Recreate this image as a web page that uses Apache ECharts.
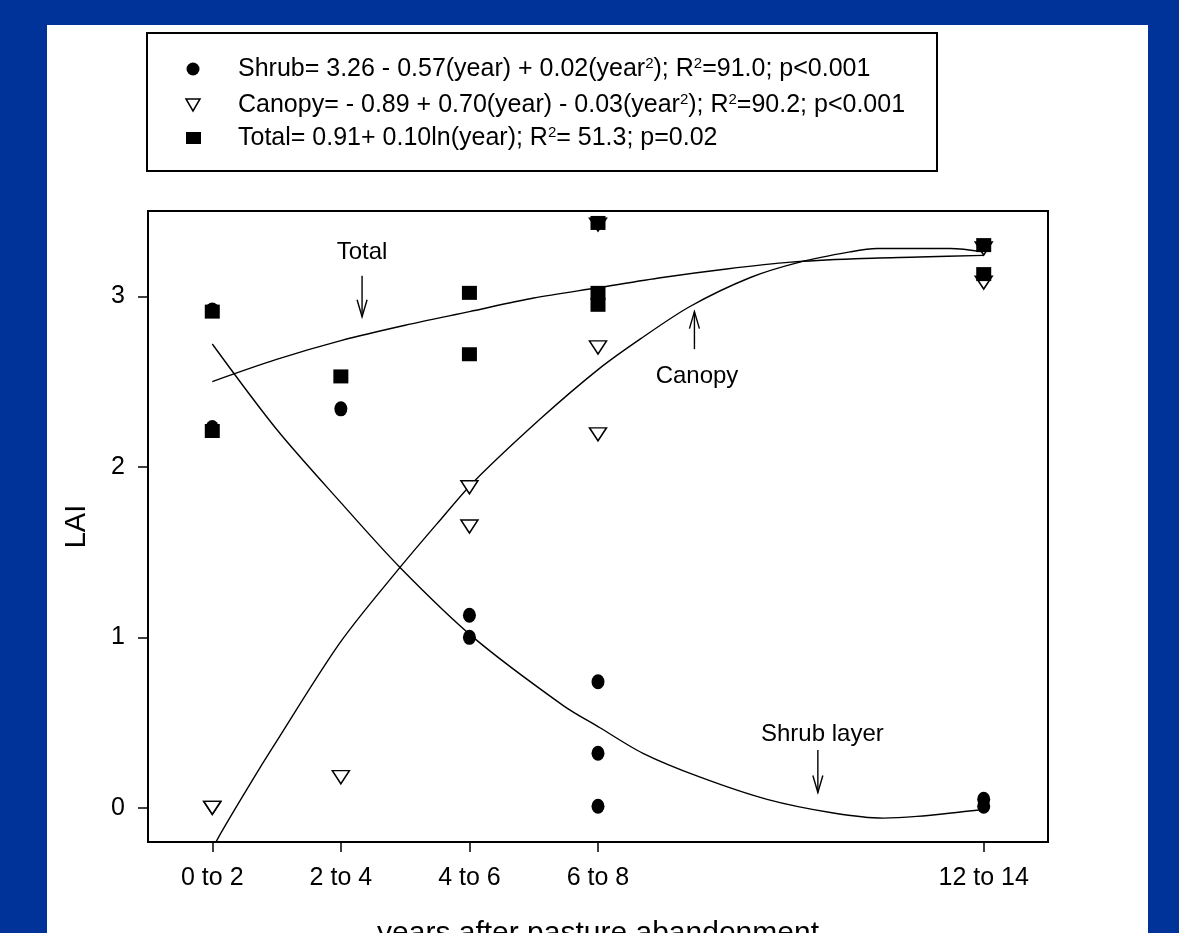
<!DOCTYPE html>
<html>
<head>
<meta charset="utf-8">
<script src="https://cdn.jsdelivr.net/npm/echarts@6/dist/echarts.min.js"></script>
<style>
  html, body { margin: 0; padding: 0; background: #003399; overflow: hidden; }
  #panel { position: absolute; left: 47px; top: 25px; width: 1101px; height: 920px; background: #fff; }
  #chart { position: absolute; left: 0; top: 0; width: 1179px; height: 933px; }
</style>
</head>
<body>
<div id="panel"></div>
<div id="chart"></div>
<script>
// x = mid-year of each age class
const yearTicks = [1, 3, 5, 7, 13];
const yearLabels = ["0 to 2", "2 to 4", "4 to 6", "6 to 8", "12 to 14"];
const laiTicks = [0, 1, 2, 3];

// observed LAI
const shrubX = [1, 1, 3, 5, 5, 7, 7, 7, 13, 13];
const shrubY = [2.92, 2.23, 2.34, 1.13, 1.0, 0.74, 0.32, 0.01, 0.05, 0.01];
const canopyX = [1, 1, 3, 5, 5, 7, 7, 7, 13, 13];
const canopyY = [0.0, 0.0, 0.18, 1.88, 1.65, 3.42, 2.7, 2.19, 3.28, 3.08];
const totalX = [1, 1, 3, 5, 5, 7, 7, 7, 13, 13];
const totalY = [2.91, 2.21, 2.53, 3.02, 2.66, 3.43, 3.02, 2.95, 3.3, 3.13];

// fitted curves
const shrubFitX = [1, 2, 3, 3.92, 5.06, 6.46, 7.03, 7.7, 8.59, 9.63, 10.66, 11.44, 11.96, 12.74, 13];
const shrubFitY = [2.72, 2.22, 1.79, 1.41, 1.0, 0.6, 0.47, 0.32, 0.18, 0.05, -0.03, -0.06, -0.05, -0.02, -0.01];
const canopyFitX = [1, 1.16, 1.62, 1.95, 2.99, 3.92, 4.55, 5.06, 6.1, 7.0, 7.66, 8.43, 9.37, 10.14, 10.92, 11.34, 12.48, 13];
const canopyFitY = [-0.24, -0.13, 0.16, 0.36, 0.97, 1.41, 1.69, 1.91, 2.28, 2.57, 2.75, 2.94, 3.11, 3.2, 3.26, 3.28, 3.28, 3.26];
const totalFitX = [1, 2, 3, 4, 5, 6, 7, 8, 9, 10, 11, 12, 13];
const totalFitY = [2.5, 2.63, 2.74, 2.83, 2.91, 2.99, 3.05, 3.11, 3.16, 3.2, 3.22, 3.23, 3.24];

// arrow annotations
const annLabels = ["Total", "Canopy", "Shrub layer"];
const annX = [3.33, 8.5, 10.42];
const annFrom = [3.12, 2.69, 0.34];
const annTo = [2.88, 2.91, 0.09];
const annTextX = [3.33, 8.54, 10.49];
const annTextY = [3.26, 2.53, 0.43];

const legendRows = [
  "Shrub= 3.26 - 0.57(year) + 0.02(year{s|2}); R{s|2}=91.0; p<0.001",
  "Canopy= - 0.89 + 0.70(year) - 0.03(year{s|2}); R{s|2}=90.2; p<0.001",
  "Total= 0.91+ 0.10ln(year); R{s|2}= 51.3; p=0.02",
];

const FONT = '"Liberation Sans", Arial, sans-serif';
const zip = (xs, ys) => xs.map((x, i) => [x, ys[i]]);

const chart = echarts.init(document.getElementById("chart"));

const legendY = [69, 105, 138];
const legendMarkers = [
  { type: "circle", shape: { cx: 193, cy: legendY[0], r: 6.5 }, style: { fill: "#000" } },
  {
    type: "polygon",
    shape: { points: [[186, legendY[1] - 6], [200, legendY[1] - 6], [193, legendY[1] + 6]] },
    style: { fill: "#fff", stroke: "#000", lineWidth: 1.5 },
  },
  { type: "rect", shape: { x: 186, y: legendY[2] - 6, width: 15, height: 12 }, style: { fill: "#000" } },
];

const fitLine = (name, xs, ys) => ({
  name,
  type: "line",
  data: zip(xs, ys),
  showSymbol: false,
  smooth: 0.3,
  lineStyle: { color: "#000", width: 1.4 },
  z: 2,
});

const option = {
  animation: false,
  graphic: [
    {
      type: "rect",
      shape: { x: 147, y: 33, width: 790, height: 138 },
      style: { fill: "#fff", stroke: "#000", lineWidth: 2 },
    },
    ...legendMarkers,
    ...legendRows.map((t, i) => ({
      type: "text",
      x: 238,
      y: legendY[i],
      style: {
        text: t,
        font: "25px " + FONT,
        fill: "#000",
        verticalAlign: "middle",
        rich: { s: { fontSize: 15, fontFamily: FONT, verticalAlign: "top", fill: "#000" } },
      },
    })),
  ],
  grid: {
    left: 148,
    right: 131,
    top: 211,
    bottom: 91,
    show: true,
    borderColor: "#000",
    borderWidth: 2,
    containLabel: false,
    outerBoundsMode: "none",
  },
  xAxis: {
    type: "value",
    min: 0,
    max: 14,
    name: "years after pasture abandonment",
    nameLocation: "middle",
    nameGap: 77,
    nameTextStyle: { fontSize: 30, fontFamily: FONT, color: "#000" },
    axisLine: { show: true, onZero: false, lineStyle: { color: "#000", width: 2 } },
    axisTick: { show: true, customValues: yearTicks, length: 10, lineStyle: { color: "#000", width: 1.5 } },
    axisLabel: {
      customValues: yearTicks,
      formatter: (v) => yearLabels[yearTicks.indexOf(v)] || "",
      fontSize: 25,
      fontFamily: FONT,
      color: "#000",
      margin: 24,
    },
    splitLine: { show: false },
  },
  yAxis: {
    type: "value",
    min: -0.2,
    max: 3.5,
    name: "LAI",
    nameLocation: "middle",
    nameGap: 57,
    nameRotate: 90,
    nameTextStyle: { fontSize: 29, fontFamily: FONT, color: "#000" },
    axisLine: { show: true, onZero: false, lineStyle: { color: "#000", width: 2 } },
    axisTick: { show: true, customValues: laiTicks, length: 10, lineStyle: { color: "#000", width: 1.5 } },
    axisLabel: {
      customValues: laiTicks,
      fontSize: 25,
      fontFamily: FONT,
      color: "#000",
      margin: 23,
    },
    splitLine: { show: false },
  },
  series: [
    fitLine("Shrub fit", shrubFitX, shrubFitY),
    fitLine("Canopy fit", canopyFitX, canopyFitY),
    fitLine("Total fit", totalFitX, totalFitY),
    {
      name: "Canopy",
      type: "scatter",
      data: zip(canopyX, canopyY),
      symbol: "path://M0,0 L10,0 L5,8 Z",
      symbolSize: [17, 13],
      itemStyle: { color: "#fff", borderColor: "#000", borderWidth: 1.5, opacity: 1 },
      z: 3,
    },
    {
      name: "Total",
      type: "scatter",
      data: zip(totalX, totalY),
      symbol: "rect",
      symbolSize: [15, 14],
      itemStyle: { color: "#000", opacity: 1 },
      z: 4,
    },
    {
      name: "Shrub",
      type: "scatter",
      data: zip(shrubX, shrubY),
      symbol: "circle",
      symbolSize: [13, 15],
      itemStyle: { color: "#000", opacity: 1 },
      z: 5,
    },
    {
      name: "labels",
      type: "custom",
      clip: false,
      z: 6,
      data: annLabels.map((_, i) => [annX[i], annFrom[i], annTo[i], annTextX[i], annTextY[i]]),
      renderItem: (params, api) => {
        const p0 = api.coord([api.value(0), api.value(1)]);
        const p1 = api.coord([api.value(0), api.value(2)]);
        const pt = api.coord([api.value(3), api.value(4)]);
        const dir = p1[1] > p0[1] ? 1 : -1;
        return {
          type: "group",
          children: [
            {
              type: "line",
              shape: { x1: p0[0], y1: p0[1], x2: p1[0], y2: p1[1] },
              style: { stroke: "#000", lineWidth: 1.4 },
            },
            {
              type: "polyline",
              shape: { points: [[p1[0] - 5, p1[1] - dir * 17], [p1[0], p1[1]], [p1[0] + 5, p1[1] - dir * 17]] },
              style: { stroke: "#000", fill: null, lineWidth: 1.4 },
            },
            {
              type: "text",
              x: pt[0],
              y: pt[1],
              style: {
                text: annLabels[params.dataIndex],
                font: "24px " + FONT,
                fill: "#000",
                align: "center",
                verticalAlign: "middle",
              },
            },
          ],
        };
      },
    },
  ],
};

chart.setOption(option);
window.addEventListener("resize", () => chart.resize());
</script>
</body>
</html>
